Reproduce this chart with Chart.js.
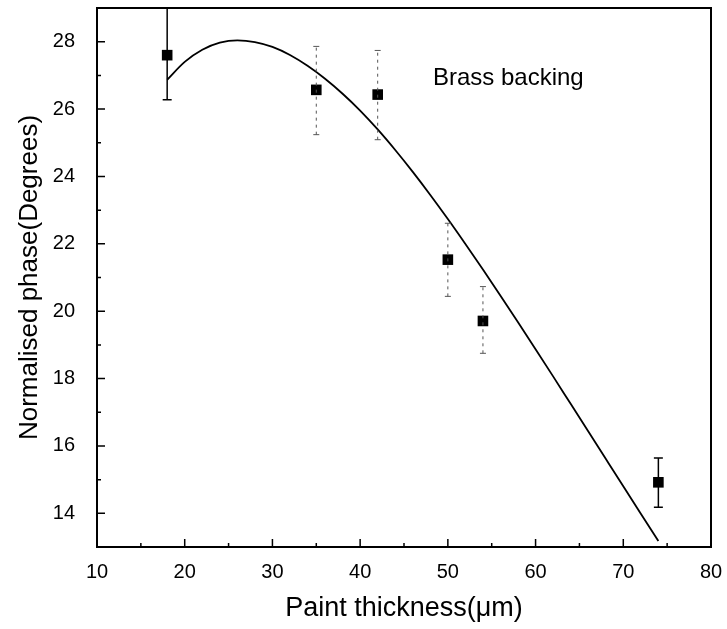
<!DOCTYPE html>
<html>
<head>
<meta charset="utf-8">
<script src="https://cdn.jsdelivr.net/npm/chart.js@4.4.1/dist/chart.umd.min.js"></script>
<style>
  html, body { margin: 0; padding: 0; background: #fff; }
  #wrap { width: 727px; height: 629px; }
</style>
</head>
<body>
<div id="wrap"><canvas id="c" width="727" height="629"></canvas></div>
<script>
// Measured phase vs. paint thickness, with error bars
const thickness = [18, 35, 42, 50, 54, 74];
const phase     = [27.6, 26.57, 26.43, 21.53, 19.71, 14.92];
const errLow    = [26.28, 25.24, 25.09, 20.44, 18.75, 14.18];
const errHigh   = [29.3, 27.86, 27.74, 22.61, 20.73, 15.64];

// Fitted curve
const fitX = [18, 20, 22, 24, 26, 28, 30, 32, 34, 36, 38, 40, 42, 44, 46, 48, 50, 52, 54, 56, 58, 60, 62, 64, 66, 68, 70, 72, 74];
const fitY = [26.87, 27.40, 27.76, 27.97, 28.04, 27.99, 27.845, 27.605, 27.285, 26.90, 26.455, 25.955, 25.395, 24.785, 24.135, 23.45, 22.735, 21.995, 21.235, 20.46, 19.67, 18.87, 18.065, 17.25, 16.435, 15.62, 14.805, 13.99, 13.175];

// Axis ticks
const xMajor = [10, 20, 30, 40, 50, 60, 70, 80];
const xMinor = [15, 25, 35, 45, 55, 65, 75];
const yMajor = [14, 16, 18, 20, 22, 24, 26, 28];
const yMinor = [13, 15, 17, 19, 21, 23, 25, 27];

// Annotation
const noteText = 'Brass backing';
const noteAt = { x: 48.3, y: 26.9 };

// Error bars drawn solid at the ends, dotted for the middle measurements
const dottedBars = [false, true, true, true, true, false];

const FONT = '"Liberation Sans", Arial, sans-serif';

const framePlugin = {
  id: 'frameTicks',
  afterDatasetsDraw(chart) {
    const { ctx, chartArea: a, scales: { x, y } } = chart;
    ctx.save();
    // error bars
    ctx.beginPath();
    ctx.rect(a.left, a.top, a.right - a.left, a.bottom - a.top);
    ctx.clip();
    thickness.forEach((t, i) => {
      const px = x.getPixelForValue(t);
      const pLo = y.getPixelForValue(errLow[i]);
      const pHi = y.getPixelForValue(errHigh[i]);
      ctx.strokeStyle = dottedBars[i] ? '#555' : '#000';
      ctx.lineWidth = dottedBars[i] ? 1 : 1.5;
      ctx.setLineDash(dottedBars[i] ? [3, 4] : []);
      ctx.beginPath();
      ctx.moveTo(px, pLo);
      ctx.lineTo(px, pHi);
      ctx.stroke();
      ctx.setLineDash([]);
      const cap = dottedBars[i] ? 3 : 4.5;
      ctx.beginPath();
      ctx.moveTo(px - cap, pLo); ctx.lineTo(px + cap, pLo);
      ctx.moveTo(px - cap, pHi); ctx.lineTo(px + cap, pHi);
      ctx.stroke();
    });
    ctx.restore();

    ctx.save();
    // frame
    ctx.strokeStyle = '#000';
    ctx.lineWidth = 2;
    ctx.strokeRect(a.left, a.top, a.right - a.left, a.bottom - a.top);
    // inward ticks
    ctx.lineWidth = 1.5;
    ctx.beginPath();
    xMajor.forEach(v => { const p = x.getPixelForValue(v); ctx.moveTo(p, a.bottom); ctx.lineTo(p, a.bottom - 8); });
    xMinor.forEach(v => { const p = x.getPixelForValue(v); ctx.moveTo(p, a.bottom); ctx.lineTo(p, a.bottom - 4); });
    yMajor.forEach(v => { const p = y.getPixelForValue(v); ctx.moveTo(a.left, p); ctx.lineTo(a.left + 8, p); });
    yMinor.forEach(v => { const p = y.getPixelForValue(v); ctx.moveTo(a.left, p); ctx.lineTo(a.left + 4, p); });
    ctx.stroke();
    // annotation
    ctx.fillStyle = '#000';
    ctx.font = '24px ' + FONT;
    ctx.textBaseline = 'middle';
    ctx.textAlign = 'left';
    ctx.fillText(noteText, x.getPixelForValue(noteAt.x), y.getPixelForValue(noteAt.y));
    ctx.restore();
  }
};

new Chart(document.getElementById('c'), {
  type: 'scatter',
  data: {
    datasets: [
      {
        label: 'fit',
        data: fitX.map((v, i) => ({ x: v, y: fitY[i] })),
        showLine: true,
        borderColor: '#000',
        borderWidth: 1.8,
        pointRadius: 0,
        cubicInterpolationMode: 'monotone',
        order: 2
      },
      {
        label: 'measured',
        data: thickness.map((v, i) => ({ x: v, y: phase[i] })),
        showLine: false,
        pointStyle: 'rect',
        pointRadius: 7.5,
        backgroundColor: '#000',
        borderColor: '#000',
        borderWidth: 0,
        order: 1
      }
    ]
  },
  plugins: [framePlugin],
  options: {
    responsive: false,
    animation: false,
    devicePixelRatio: 1,
    layout: { padding: { top: 8, right: 16, left: 0, bottom: 0 } },
    plugins: { legend: { display: false }, tooltip: { enabled: false } },
    scales: {
      x: {
        type: 'linear',
        min: 10, max: 80,
        afterBuildTicks: s => { s.ticks = xMajor.map(v => ({ value: v })); },
        afterFit: s => { s.height = 82; s.paddingLeft = 0; s.paddingRight = 0; },
        grid: { display: false, drawTicks: false },
        border: { display: false },
        ticks: { color: '#000', font: { family: FONT, size: 20 }, padding: 13, maxRotation: 0 },
        title: { display: true, text: 'Paint thickness(μm)', color: '#000', font: { family: FONT, size: 27 }, padding: { top: 6, bottom: 4 } }
      },
      y: {
        type: 'linear',
        min: 13, max: 29,
        afterBuildTicks: s => { s.ticks = yMajor.map(v => ({ value: v })); },
        afterFit: s => { s.width = 97; s.paddingTop = 0; s.paddingBottom = 0; },
        grid: { display: false, drawTicks: false },
        border: { display: false },
        ticks: { color: '#000', font: { family: FONT, size: 20 }, padding: 22 },
        title: { display: true, text: 'Normalised phase(Degrees)', color: '#000', font: { family: FONT, size: 26 }, padding: { top: 14, bottom: 4 } }
      }
    }
  }
});
</script>
</body>
</html>
